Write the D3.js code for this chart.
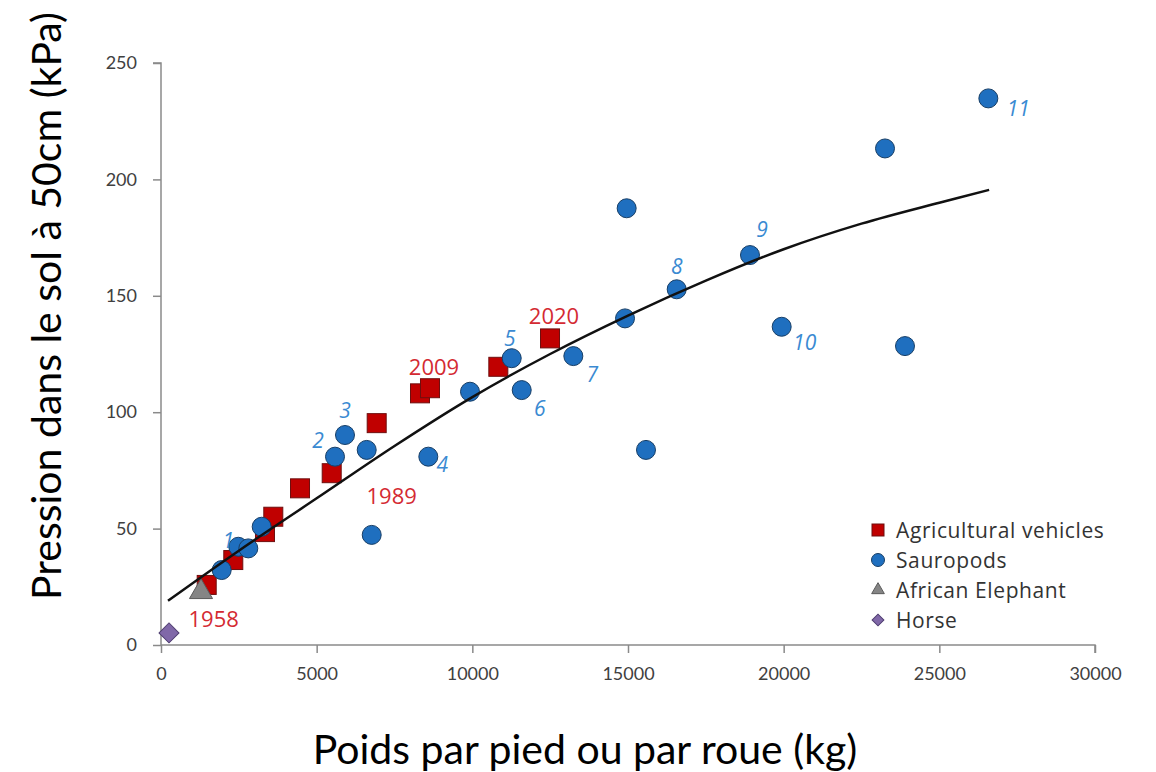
<!DOCTYPE html>
<html>
<head>
<meta charset="utf-8">
<script src="https://cdn.jsdelivr.net/npm/d3@7"></script>
<style>
  html, body { margin: 0; padding: 0; background: #fff; }
  svg { display: block; }
  text { font-family: Lato, "Open Sans", sans-serif; }
</style>
</head>
<body>
<svg id="chart" width="1156" height="772"></svg>
<script>
// Agricultural vehicles (weight per wheel, soil pressure at 50 cm)
const vehicleWeight   = [1468, 2322, 3340, 3607, 4465, 5483, 6928, 8319, 8640, 10835, 12495];
const vehiclePressure = [25.8, 36.5, 48.5, 55.1, 67.3, 73.8, 95.3, 108.1, 110.3, 119.5, 131.7];
const vehicleYears    = ["1958", "", "", "", "", "1989", "", "", "2009", "", "2020"];

// Sauropods (weight per foot, soil pressure at 50 cm)
const sauropodWeight   = [1950, 2483, 2804, 3234, 5589, 5910, 6607, 6768, 8586, 9925, 11265, 11586,
                          13244, 14904, 14957, 15578, 16564, 18918, 19936, 23255, 23897, 26574];
const sauropodPressure = [32.2, 42.2, 41.5, 50.8, 80.9, 90.2, 83.8, 47.3, 80.9, 108.8, 123.2, 109.5,
                          124.1, 140.3, 187.6, 83.8, 152.8, 167.5, 136.7, 213.3, 128.4, 234.8];
const sauropodIds      = ["", "1", "", "", "2", "3", "", "", "4", "", "5", "6",
                          "7", "", "", "", "8", "9", "10", "", "", "11"];

// Reference animals
const elephantWeight = [1285], elephantPressure = [22.8];
const horseWeight    = [257],  horsePressure    = [5.2];

// Trend curve through all points
const trendWeight   = [225, 2500, 5000, 7500, 10000, 12500, 15000, 17500, 20000, 22500, 25000, 26600];
const trendPressure = [19, 40.5, 63, 85.5, 106.5, 125, 141.5, 156.5, 170, 181, 190, 195.5];

// Axis ticks
const xTicks = [0, 5000, 10000, 15000, 20000, 25000, 30000];
const yTicks = [0, 50, 100, 150, 200, 250];

const legendLabels = ["Agricultural vehicles", "Sauropods", "African Elephant", "Horse"];

const svg = d3.select("#chart");
const x = d3.scaleLinear().domain([0, 30000]).range([161, 1095]);
const y = d3.scaleLinear().domain([0, 250]).range([645, 63]);

const axisColor = "#8a8a8a";
const tickText = "#404040";

// Y axis
const yAxis = svg.append("g")
  .attr("transform", `translate(${x(0)},0)`)
  .call(d3.axisLeft(y).tickValues(yTicks).tickSize(8).tickPadding(16).tickFormat(d3.format("d")));
yAxis.select(".domain").attr("stroke", axisColor).attr("stroke-width", 1.5).attr("d", `M-8,${y(250)}H0V${y(0)}`);
yAxis.selectAll(".tick line").attr("stroke", axisColor).attr("stroke-width", 1.5);
yAxis.selectAll(".tick text").attr("fill", tickText).style("font-size", "18px").style("font-family", "Lato, sans-serif");

// X axis
const xAxis = svg.append("g")
  .attr("transform", `translate(0,${y(0)})`)
  .call(d3.axisBottom(x).tickValues(xTicks).tickSize(8).tickPadding(14).tickFormat(d3.format("d")));
xAxis.select(".domain").attr("stroke", axisColor).attr("stroke-width", 1.5).attr("d", `M${x(0)},0H${x(30000)}V8`);
xAxis.selectAll(".tick line").attr("stroke", axisColor).attr("stroke-width", 1.5);
xAxis.selectAll(".tick text").attr("fill", tickText).style("font-size", "18px").style("font-family", "Lato, sans-serif");

// Markers
const red = "#c00000", redStroke = "#6e0f0f";
const blue = "#1f6fbf", blueStroke = "#173e66";
const grey = "#858585", greyStroke = "#5a5a5a";
const purple = "#8068a8", purpleStroke = "#4e3d70";
const sq = 19;

const vehicles = vehicleWeight.map((w, i) => ({ w, p: vehiclePressure[i], label: vehicleYears[i] }));
const sauropods = sauropodWeight.map((w, i) => ({ w, p: sauropodPressure[i], label: sauropodIds[i] }));

svg.append("g").selectAll("rect").data(vehicles).join("rect")
  .attr("x", d => x(d.w) - sq / 2).attr("y", d => y(d.p) - sq / 2)
  .attr("width", sq).attr("height", sq)
  .attr("fill", red).attr("stroke", redStroke).attr("stroke-width", 1);

svg.append("g").selectAll("circle").data(sauropods).join("circle")
  .attr("cx", d => x(d.w)).attr("cy", d => y(d.p)).attr("r", 9.5)
  .attr("fill", blue).attr("stroke", blueStroke).attr("stroke-width", 1);

const tri = d3.symbol().type(d3.symbolTriangle).size(230);
svg.append("g").selectAll("path").data(elephantWeight.map((w, i) => ({ w, p: elephantPressure[i] }))).join("path")
  .attr("transform", d => `translate(${x(d.w)},${y(d.p)})`)
  .attr("d", tri).attr("fill", grey).attr("stroke", greyStroke).attr("stroke-width", 1);

// Horse: a square turned 45 degrees
const dia = d3.symbol().type(d3.symbolSquare).size(200);
svg.append("g").selectAll("path").data(horseWeight.map((w, i) => ({ w, p: horsePressure[i] }))).join("path")
  .attr("transform", d => `translate(${x(d.w)},${y(d.p)}) rotate(45)`)
  .attr("d", dia).attr("fill", purple).attr("stroke", purpleStroke).attr("stroke-width", 1);

// Trend curve
const trend = trendWeight.map((w, i) => [w, trendPressure[i]]);
svg.append("path")
  .attr("d", d3.line().x(d => x(d[0])).y(d => y(d[1])).curve(d3.curveCatmullRom)(trend))
  .attr("fill", "none").attr("stroke", "#111").attr("stroke-width", 2.5);

// Point annotations (offsets in pixels from the marker centre)
const vehicleLabelOffset = { "1958": [7, 33], "1989": [60, 22], "2009": [4, -22], "2020": [4, -23] };
const sauropodLabelOffset = {
  "1": [-10, -7], "2": [-17, -17], "3": [0, -25], "4": [14, 7], "5": [-2, -20], "6": [18, 18],
  "7": [19, 18], "8": [0, -23], "9": [12, -26], "10": [23, 15], "11": [30, 10]
};

svg.append("g").selectAll("text").data(vehicles.filter(d => d.label)).join("text")
  .attr("x", d => x(d.w) + vehicleLabelOffset[d.label][0])
  .attr("y", d => y(d.p) + vehicleLabelOffset[d.label][1])
  .attr("text-anchor", "middle").attr("dominant-baseline", "central")
  .attr("fill", "#d42a32").style("font-family", "'Open Sans', sans-serif").style("font-size", "22px")
  .text(d => d.label);

svg.append("g").selectAll("text").data(sauropods.filter(d => d.label)).join("text")
  .attr("x", d => x(d.w) + sauropodLabelOffset[d.label][0])
  .attr("y", d => y(d.p) + sauropodLabelOffset[d.label][1])
  .attr("text-anchor", "middle").attr("dominant-baseline", "central")
  .attr("fill", "#3a8ad2").style("font-family", "'Open Sans', sans-serif").style("font-size", "21px").style("font-style", "italic")
  .text(d => d.label);

// Legend
const legend = svg.append("g").attr("transform", "translate(878,530)");
const rowH = 30;
legendLabels.forEach((label, i) => {
  const g = legend.append("g").attr("transform", `translate(0,${i * rowH})`);
  if (i === 0) g.append("rect").attr("x", -6).attr("y", -6).attr("width", 12).attr("height", 12).attr("fill", red).attr("stroke", redStroke);
  if (i === 1) g.append("circle").attr("r", 6.5).attr("fill", blue).attr("stroke", blueStroke);
  if (i === 2) g.append("path").attr("d", d3.symbol().type(d3.symbolTriangle).size(70)).attr("fill", grey).attr("stroke", greyStroke);
  if (i === 3) g.append("path").attr("transform", "rotate(45)").attr("d", d3.symbol().type(d3.symbolSquare).size(70)).attr("fill", purple).attr("stroke", purpleStroke);
  g.append("text").attr("x", 18).attr("y", 0).attr("dominant-baseline", "central")
    .attr("fill", "#333").style("font-family", "'Open Sans', sans-serif").style("font-size", "21px")
    .style("letter-spacing", "0.6px").text(label);
});

// Axis titles
svg.append("text")
  .attr("x", 585).attr("y", 748).attr("text-anchor", "middle").attr("dominant-baseline", "central")
  .attr("fill", "#000").style("font-size", "41px")
  .text("Poids par pied ou par roue (kg)");

svg.append("text")
  .attr("transform", "translate(45,306) rotate(-90)")
  .attr("text-anchor", "middle").attr("dominant-baseline", "central")
  .attr("fill", "#000").style("font-size", "41px")
  .text("Pression dans le sol à 50cm (kPa)");
</script>
</body>
</html>
